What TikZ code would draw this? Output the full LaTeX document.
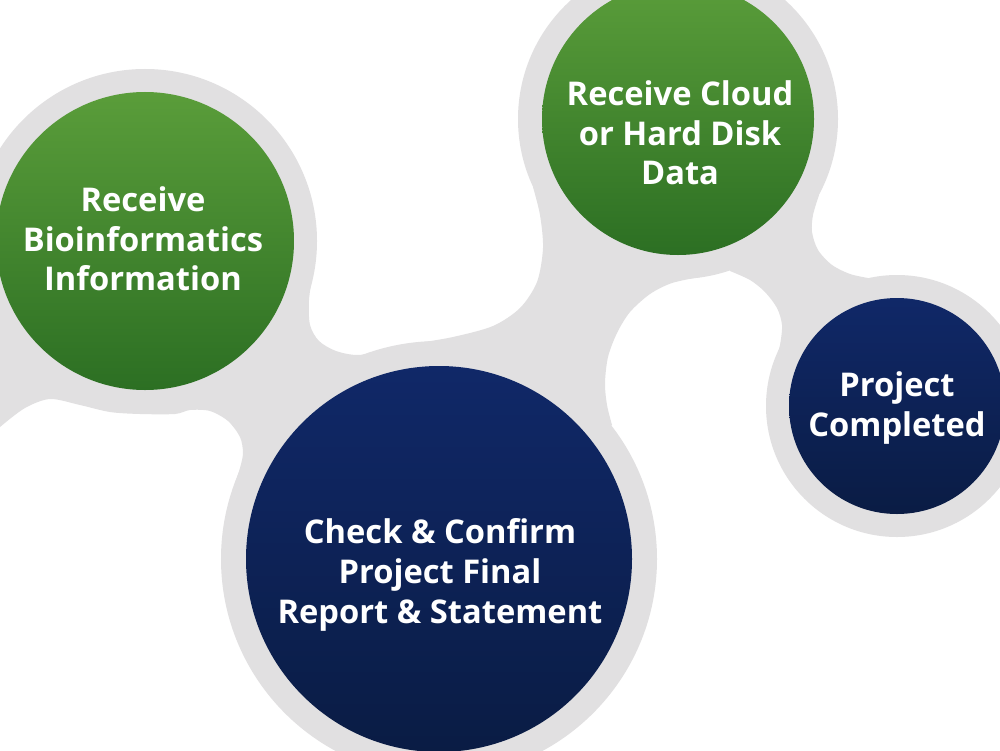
\documentclass[tikz,border=0pt]{standalone}
\usepackage{fontspec}
\setmainfont{Open Sans}
\usepackage{xcolor,tikz}

\definecolor{haloGray}{RGB}{225,224,225}
\definecolor{leafTop}{RGB}{90,157,58}
\definecolor{leafBot}{RGB}{44,111,35}
\definecolor{navyTop}{RGB}{16,40,104}
\definecolor{navyBot}{RGB}{10,28,68}

\begin{document}
\begin{tikzpicture}[x=0.2mm,y=-0.2mm,
  halo/.style={circle,fill=haloGray,inner sep=0pt},
  leafball/.style={circle,inner sep=0pt,top color=leafTop,bottom color=leafBot},
  navyball/.style={circle,inner sep=0pt,top color=navyTop,bottom color=navyBot},
  caption/.style={text=white,align=center,font=\bfseries\fontsize{18.6}{22.6}\selectfont}]
\useasboundingbox (0,0) rectangle (1000,750);
\clip (0,0) rectangle (1000,750);
\fill[white] (0,0) rectangle (1000,750);
\node[halo,minimum size=6.88cm] (h1) at (145,241) {};
\node[halo,minimum size=6.4cm] (h2) at (678,119) {};
\node[halo,minimum size=8.72cm] (h3) at (439,559) {};
\node[halo,minimum size=5.24cm] (h4) at (897,406) {};
\fill[haloGray] (-10,300) -- (h1.center)
  -- plot[smooth] coordinates {(313,272) (309,300) (310,325) (319,341) (336,351) (358,355) (385,350) (413,344) (453,337) (493,326) (520,308) (537,282) (543,248) (540,215) (533,187)}
  -- (h2.center)
  -- plot[smooth] coordinates {(700,277) (672,283) (650,294) (630,312) (617,333) (608,357) (605,383) (607,405) (612,425)}
  -- (h3.center)
  -- plot[smooth] coordinates {(235,483) (240,468) (243,453) (240,437) (228,421) (210,411) (190,410) (175,414) (140,414) (110,412) (80,405) (50,399) (25,408) (0,427) (-10,437)}
  -- cycle;
\fill[haloGray] (h2.center)
  -- plot[smooth] coordinates {(819,195) (813,215) (812,232) (818,250) (832,265) (850,274) (868,278)}
  -- (h4.center)
  -- plot[smooth] coordinates {(768,385) (775,362) (780,345) (782,325) (777,308) (765,292) (750,280) (730,271)}
  -- cycle;
\node[leafball,minimum size=5.96cm] (bio) at (145,241) {};
\node[leafball,minimum size=5.44cm] (cloud) at (678,119) {};
\node[navyball,minimum size=7.72cm] (check) at (439,559) {};
\node[navyball,minimum size=4.32cm] (done) at (897,406) {};
\node[caption] (bioTxt) at (143,239) {Receive\\Bioinformatics\\Information};
\node[caption] (cloudTxt) at (680,133) {Receive Cloud\\or Hard Disk\\Data};
\node[caption] (checkTxt) at (440,575) {Check \& Confirm\\Project Final\\Report \& Statement};
\node[caption] (doneTxt) at (897,408) {Project\\Completed};
\end{tikzpicture}
\end{document}
